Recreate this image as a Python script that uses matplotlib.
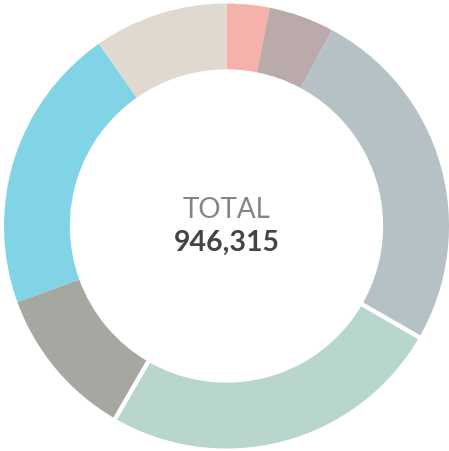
import numpy as np
import matplotlib
matplotlib.use("Agg")
import matplotlib.pyplot as plt

# segment values, clockwise from 12 o'clock
labels = ["A", "B", "C", "D", "E", "F", "G"]
values = [29440, 44950, 241045, 236580, 105147, 197150, 92003]
colors = ["#F4B2AA", "#BAABAA", "#B6C1C5", "#B8D6CD", "#A5A8A1", "#80D4E5", "#E0D9CF"]
total = sum(values)

fig = plt.figure(figsize=(4.49, 4.51), dpi=100)
ax = fig.add_axes([0, 0, 1, 1])

R = 222.5
ax.pie(values, colors=colors, startangle=90, counterclock=False,
       radius=1.0, wedgeprops=dict(width=0.296, linewidth=0))

# white separators around the highlighted segment
cum = np.cumsum([0] + values) / total * 360.0
for k in (3, 4):
    a = np.deg2rad(90 - cum[k])
    ax.plot([0.69 * np.cos(a), 1.02 * np.cos(a)], [0.69 * np.sin(a), 1.02 * np.sin(a)],
            color="white", lw=3.2, solid_capstyle="butt", zorder=5)

ax.text(0, 16 / R, "TOTAL", ha="center", va="center", fontsize=20,
        color="#858585", family=["Lato", "DejaVu Sans"], fontweight="normal")
ax.text(0, -17 / R, f"{total:,}", ha="center", va="center", fontsize=20.5,
        color="#444444", family=["Lato", "DejaVu Sans"], fontweight="bold")

ax.set_xlim(-226.5 / R, (449 - 226.5) / R)
ax.set_ylim(-225 / R, 226 / R)
ax.set_aspect("equal")
ax.axis("off")

fig.savefig("out.png", dpi=100)
